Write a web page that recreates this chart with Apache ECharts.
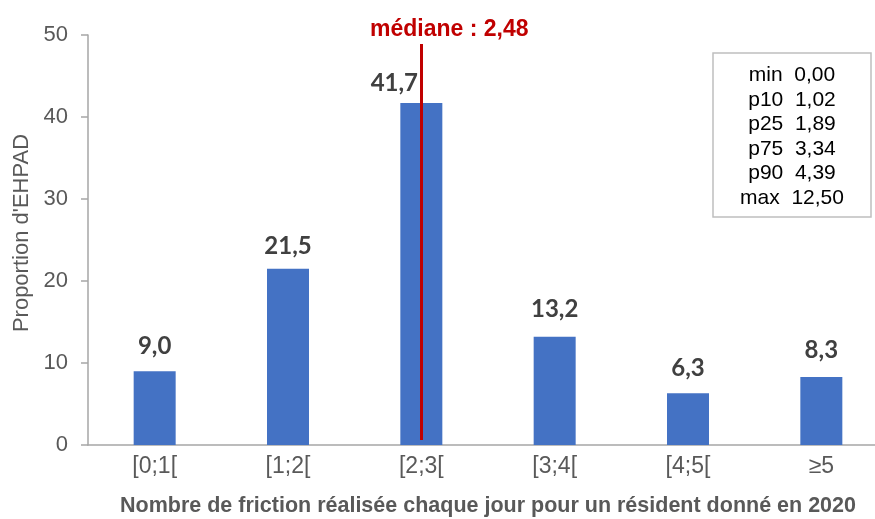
<!DOCTYPE html>
<html>
<head>
<meta charset="utf-8">
<script src="https://cdn.jsdelivr.net/npm/echarts@6/dist/echarts.min.js"></script>
<style>
  html, body { margin: 0; padding: 0; background: #fff; }
  #chart { width: 875px; height: 519px; }
</style>
</head>
<body>
<div id="chart"></div>
<script>
const categories = ['[0;1[', '[1;2[', '[2;3[', '[3;4[', '[4;5[', '≥5'];
const values = [9.0, 21.5, 41.7, 13.2, 6.3, 8.3];
const yTicks = [0, 10, 20, 30, 40, 50];
const medianText = 'médiane : 2,48';
const medianCategory = '[2;3[';
const statNames = ['min', 'p10', 'p25', 'p75', 'p90', 'max'];
const statValues = ['0,00', '1,02', '1,89', '3,34', '4,39', '12,50'];

// small nudges of the value labels, as placed in the original
const labelOffsets = [[0, 0], [0, 3], [-27, 5], [0, -2], [0, 0], [0, -2]];

const chart = echarts.init(document.getElementById('chart'));

const fmt = v => v.toFixed(1).replace('.', ',');

const barData = values.map((v, i) => ({
  value: v,
  label: { offset: labelOffsets[i] },
}));

const statsText = statNames.map((n, i) => n + '  ' + statValues[i]).join('\n');

const options = {
  animation: false,
  title: {
    text: medianText,
    left: 365,
    top: 13,
    textStyle: {
      color: '#C00000',
      fontSize: 23,
      fontWeight: 'bold',
      fontFamily: 'Liberation Sans',
    },
  },
  grid: {
    left: 88,
    top: 35,
    width: 800,
    height: 410,
    outerBoundsMode: 'none',
  },
  xAxis: {
    type: 'category',
    data: categories,
    name: 'Nombre de friction réalisée chaque jour pour un résident donné en 2020',
    nameLocation: 'middle',
    nameGap: 50,
    nameTextStyle: {
      color: '#595959',
      fontSize: 21.5,
      fontWeight: 'bold',
      fontFamily: 'Liberation Sans',
    },
    axisLine: { lineStyle: { color: '#a6a6a6', width: 1.5 } },
    axisTick: { show: false },
    axisLabel: {
      color: '#595959',
      fontSize: 23,
      fontFamily: 'Liberation Sans',
      margin: 10,
    },
  },
  yAxis: {
    type: 'value',
    min: yTicks[0],
    max: yTicks[yTicks.length - 1],
    interval: 10,
    name: "Proportion d'EHPAD",
    nameLocation: 'middle',
    nameGap: 54,
    nameTextStyle: {
      color: '#595959',
      fontSize: 22,
      fontFamily: 'Liberation Sans',
      padding: [0, 0, 0, 14],
    },
    axisLine: { show: true, lineStyle: { color: '#a6a6a6', width: 1.5 } },
    axisTick: { show: true, inside: false, length: 7, lineStyle: { color: '#a6a6a6', width: 1.5 } },
    splitLine: { show: false },
    axisLabel: {
      color: '#595959',
      fontSize: 22,
      fontFamily: 'Liberation Sans',
      margin: 20,
    },
  },
  series: [
    {
      type: 'bar',
      data: barData,
      barWidth: 42,
      itemStyle: { color: '#4472C4' },
      label: {
        show: true,
        position: 'top',
        distance: 13,
        color: '#404040',
        fontSize: 24,
        fontWeight: 'bold',
        fontFamily: 'Lato',
        formatter: p => fmt(p.value),
      },
      markLine: {
        silent: true,
        symbol: ['none', 'none'],
        label: { show: false },
        lineStyle: { color: '#C00000', width: 3, type: 'solid' },
        data: [
          [
            { coord: [medianCategory, 0.6] },
            { coord: [medianCategory, 48.9] },
          ],
        ],
      },
    },
  ],
  graphic: [
    {
      type: 'rect',
      x: 713,
      y: 53,
      shape: { width: 158, height: 164 },
      style: { fill: '#fff', stroke: '#bfbfbf', lineWidth: 1.5 },
      z: 10,
    },
    {
      type: 'text',
      x: 792,
      y: 63,
      style: {
        text: statsText,
        fill: '#000',
        font: '21px "Liberation Sans"',
        lineHeight: 24.5,
        textAlign: 'center',
        textVerticalAlign: 'top',
      },
      z: 11,
    },
  ],
};

chart.setOption(options);
</script>
</body>
</html>
